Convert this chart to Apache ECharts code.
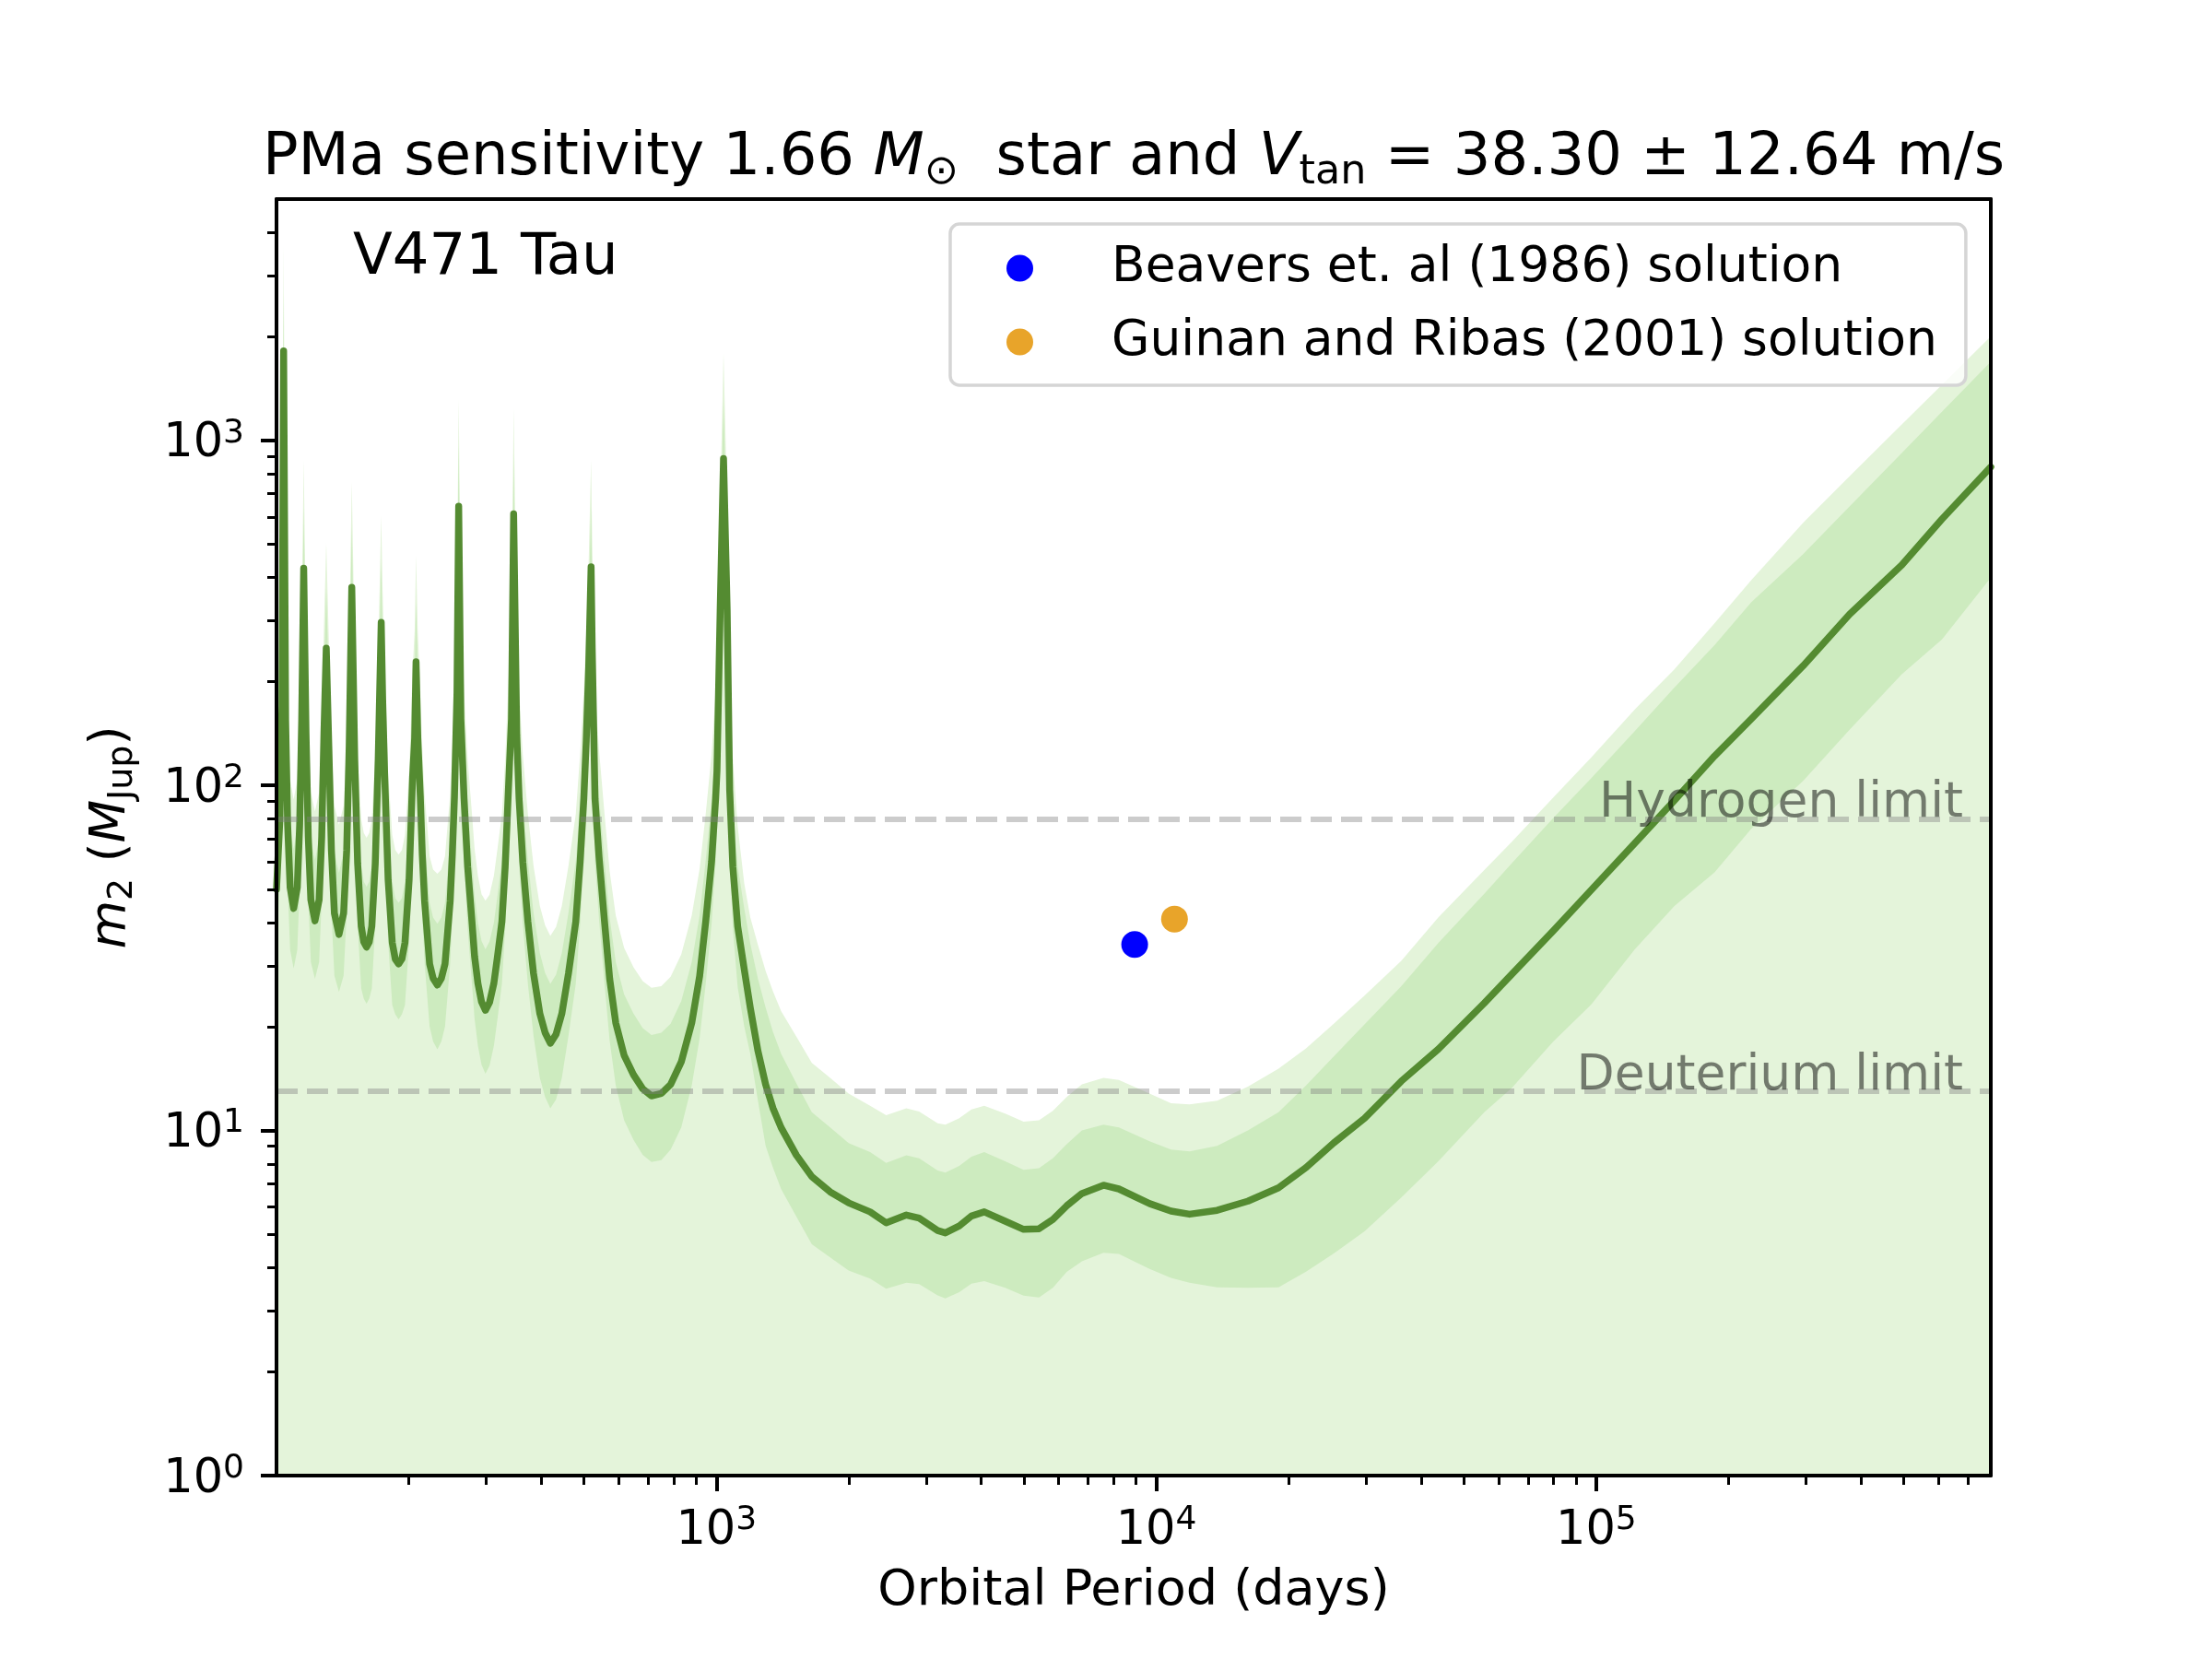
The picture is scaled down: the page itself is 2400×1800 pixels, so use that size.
<!DOCTYPE html>
<html>
<head>
<meta charset="utf-8">
<script src="https://cdn.jsdelivr.net/npm/echarts@6/dist/echarts.min.js"></script>
<style>
  html, body { margin: 0; padding: 0; background: #fff; }
  #chart { width: 2400px; height: 1800px; }
</style>
</head>
<body>
<div id="chart"></div>
<script>
// ── data (orbital period in days, mass in M_Jup) ──
const periods = [
  100, 101.8, 102.9, 103.8, 104.9, 106.0, 107.4, 109.4, 111.5, 112.9, 114.1,
  115.3, 116.7, 118.1, 119.7, 122.3, 125.0, 126.7, 128.2,
  129.75, 131.5, 133.3, 135.4, 138.7, 142.1, 144.4, 146.3,
  148.3, 150.6, 152.9, 155.8, 157.9, 160.2, 162.5, 164.7, 167.7, 170.3,
  173.0, 174.3, 176.2, 179.4, 183.3, 186.2, 189.5, 192.8, 195.9, 200.2, 203.9, 206.1,
  207.6, 209.5, 212.3, 214.5, 217.1, 222.9, 227, 232.1, 237, 241.6, 248.2, 251, 253.8, 257.2,
  259.5, 262.5, 266.9, 272, 278.2, 282, 287, 292.5, 298.5, 305, 312, 318, 325.4, 331, 336, 342.1,
  346, 351.7, 356, 363, 372.8, 384, 396.9, 408, 419.3, 432, 445.3, 461, 479, 490, 499.6, 506, 512.5,
  519, 522, 529.7, 541, 556.8, 572, 590.5, 617, 648, 680, 712, 749.5, 787, 832, 879, 916, 945.6, 975, 996, 1003, 1020,
  1038, 1058, 1072, 1090, 1118, 1157, 1194, 1243, 1294, 1345, 1403, 1520, 1648, 1814, 1998,
  2236, 2432, 2703, 2890, 3184, 3315, 3565, 3800, 4064, 4535, 4993, 5412, 5819, 6256, 6776, 7586, 8220, 9654,
  10800, 11900, 13750, 16150, 18960, 21900, 25320, 29740, 36060, 43750, 55670, 64340, 79900, 97500,
  122400, 150600, 185800, 225400, 295400, 376700, 495200, 611000, 789000
];
const medianMass = [
  50, 80, 170, 1815, 154, 77, 50.6, 44, 50.6, 77, 154,
  426, 142, 70.9, 46.6, 40.5, 46.6, 70.9, 142,
  250, 129.5, 64.8, 42.6, 37, 42.6, 64.8, 129.5,
  375, 119, 59.5, 39.1, 35.2, 34, 35.2, 39.1, 59.5, 119,
  297, 178, 106, 53.2, 35, 31.4, 30.4, 31.4, 35, 53.2, 106, 137,
  228, 137, 92.4, 63, 46.2, 30.4, 27.6, 26.4, 27.6, 30.4, 46.2, 63, 92.4, 185,
  644, 156, 91.5, 58, 40.3, 32, 26.7, 23.6, 22.3, 23.5, 26.7, 32, 40.3, 58, 91.5, 156,
  612, 140, 91.5, 60, 40.3, 28.5, 21.8, 19.2, 17.9, 19.0, 21.8, 28.5, 40.3, 60, 91.5, 135, 220,
  430, 250, 91.5, 62, 40.3, 27.5, 20.5, 16.5, 14.5, 13.2, 12.6, 12.8, 13.6, 15.8, 20.5, 28, 40.3, 60, 91.5, 110, 322,
  885, 322, 97, 58, 39, 29.3, 22.7, 17.0, 13.6, 11.6, 10.2, 8.48, 7.35, 6.64, 6.17,
  5.81, 5.40, 5.69, 5.57, 5.13, 5.05, 5.29, 5.65, 5.81, 5.46, 5.17, 5.19, 5.52, 6.05, 6.57, 6.94, 6.77, 6.14,
  5.84, 5.72, 5.87, 6.24, 6.82, 7.81, 9.21, 10.85, 13.9, 17.2, 23.4, 28.4, 37.9, 49.8,
  68, 90.4, 121.6, 156, 222, 313, 435, 591, 837
];
const innerHigh = [
  75, 120, 255, 2720, 231, 115, 75.5, 65.4, 75.5, 115, 231,
  640, 213, 106, 70, 60.8, 70, 106, 213,
  375, 194, 97, 64, 55.8, 64, 97, 194,
  562, 178, 89, 58.6, 52.6, 50.8, 52.6, 58.6, 89, 178,
  445, 267, 159, 80, 52.5, 47.1, 45.7, 47.1, 52.5, 80, 159, 205,
  342, 205, 139, 94.5, 69.3, 45.6, 41.4, 39.7, 41.4, 45.6, 69.3, 94.5, 139, 278,
  966, 234, 137, 87, 60.5, 48, 40, 35.4, 33.5, 35.3, 40, 48, 60.5, 87, 137, 234,
  918, 210, 137, 90, 60.5, 42.7, 32.7, 28.6, 26.6, 28.3, 32.7, 42.7, 60.5, 90, 137, 202, 330,
  645, 375, 137, 93, 60.5, 41.3, 30.8, 24.8, 21.8, 19.8, 18.9, 19.2, 20.4, 23.7, 30.8, 42, 60.5, 90, 137, 165, 483,
  1330, 483, 146, 87, 58.5, 44, 34.8, 27.5, 22.7, 19.3, 16.7, 13.7, 11.3, 10.2, 9.2,
  8.66, 8.06, 8.48, 8.31, 7.66, 7.55, 7.9, 8.4, 8.66, 8.14, 7.69, 7.78, 8.31, 9.12, 10.0, 10.4, 10.2, 9.3,
  8.8, 8.7, 9.03, 10.0, 11.3, 13.5, 16.4, 20.3, 26.2, 34.9, 48.5, 59.5, 80.5, 105,
  143.6, 192, 255, 340, 468, 643, 919, 1209, 1690
];
const innerLow = [
  33, 53, 112, 1200, 102, 51, 33.4, 29.5, 33.4, 51, 102,
  281, 94, 46.8, 30.8, 27.5, 30.8, 46.8, 94,
  165, 85.5, 42.8, 28.1, 25.2, 28.1, 42.8, 85.5,
  248, 78.5, 39.3, 25.8, 24.1, 23.3, 24.1, 25.8, 39.3, 78.5,
  196, 117, 70, 35.1, 23.1, 21.7, 21, 21.7, 23.1, 35.1, 70, 90,
  150, 90, 61, 41.5, 30.5, 20, 18.1, 17.2, 18.1, 20, 30.5, 41.5, 61, 122,
  425, 103, 60, 38.3, 26.6, 21.1, 17.6, 15.5, 14.6, 15.4, 17.6, 21.1, 26.6, 38.3, 60, 103,
  404, 92, 60, 39.6, 26.6, 18.8, 14.2, 12.5, 11.6, 12.3, 14.2, 18.8, 26.6, 39.6, 60, 89, 145,
  284, 165, 60, 41, 26.6, 18.2, 13.5, 10.7, 9.4, 8.5, 8.1, 8.2, 8.8, 10.2, 13.5, 18.5, 26.6, 39.6, 60, 72.6, 212,
  584, 212, 64, 38.5, 26, 20, 16.7, 12.2, 9.03, 7.8, 6.77, 5.63, 4.68, 4.29, 3.93,
  3.72, 3.48, 3.62, 3.59, 3.33, 3.26, 3.4, 3.6, 3.66, 3.5, 3.32, 3.28, 3.5, 3.89, 4.18, 4.42, 4.39, 3.97,
  3.74, 3.62, 3.51, 3.5, 3.51, 3.9, 4.4, 5.1, 6.4, 8.14, 11.3, 13.3, 18.1, 23.2,
  33.5, 44.7, 56, 75, 103, 145, 210, 265, 400
];
const outerHigh = [
  102, 164, 350, 3680, 316, 158, 104, 91, 104, 158, 316,
  878, 291, 145, 95.5, 84, 95.5, 145, 291,
  505, 265, 133, 87.3, 77, 87.3, 133, 265,
  759, 244, 122, 80, 72.8, 70.5, 72.8, 80, 122, 244,
  607, 365, 217, 109, 71.8, 65, 63, 65, 71.8, 109, 217, 281,
  464, 281, 189, 129, 94.7, 62.3, 57, 55.5, 57, 62.3, 94.7, 129, 189, 379,
  1320, 320, 188, 119, 82.6, 65.6, 54.7, 48.4, 46.3, 48.2, 54.7, 65.6, 82.6, 119, 188, 320,
  1241, 287, 188, 123, 82.6, 58.4, 44.7, 39.3, 36.6, 38.9, 44.7, 58.4, 82.6, 123, 188, 277, 451,
  878, 512, 188, 127, 82.6, 56.4, 42, 33.8, 29.7, 27.1, 25.9, 26.2, 27.9, 32.4, 42, 57.4, 82.6, 123, 188, 226, 660,
  1795, 660, 199, 119, 76, 52, 41.5, 34.5, 29, 25.3, 22.2, 18.7, 15.7, 14.2, 12.8,
  11.8, 11.07, 11.6, 11.35, 10.5, 10.4, 10.85, 11.5, 11.8, 11.2, 10.6, 10.7, 11.4, 12.5, 13.6, 14.2, 14.0, 12.8,
  12.0, 11.9, 12.2, 13.4, 15.1, 17.3, 20.4, 24.6, 31.0, 41.4, 56.8, 68.7, 92.3, 120.6,
  166, 217, 295, 394, 577, 787, 1112, 1449, 2000
];

const solutionNames = ['Beavers et. al (1986) solution', 'Guinan and Ribas (2001) solution'];
const solutionPeriods = [8930, 11000];
const solutionMasses = [34.6, 41.0];
const solutionColors = ['#0000ff', '#e8a42a'];

const limitNames = ['Hydrogen limit', 'Deuterium limit'];
const limitMasses = [80, 13];

const xMajorTicks = [1000, 10000, 100000];
const xMinorTicks = [200, 300, 400, 500, 600, 700, 800, 900,
  2000, 3000, 4000, 5000, 6000, 7000, 8000, 9000,
  20000, 30000, 40000, 50000, 60000, 70000, 80000, 90000,
  200000, 300000, 400000, 500000, 600000, 700000];
const yMajorTicks = [1, 10, 100, 1000];
const yMinorTicks = [2, 3, 4, 5, 6, 7, 8, 9, 20, 30, 40, 50, 60, 70, 80, 90,
  200, 300, 400, 500, 600, 700, 800, 900, 2000, 3000, 4000];

const X_MIN = 100, X_MAX = 789000, Y_MIN = 1, Y_MAX = 5000;

// ── style ──
const FONT = 'DejaVu Sans';
const INK = '#000';
const LIGHT = '#e4f4da';
const MEDIUM = '#cdebbf';
const LINE = '#548b31';

const pairs = ys => periods.map((p, i) => [p, ys[i]]);

const powRich = {
  b: { fontFamily: FONT, fontSize: 51, lineHeight: 51, padding: [9, 0, 0, 0], color: INK, verticalAlign: 'middle' },
  s: { fontFamily: FONT, fontSize: 36, lineHeight: 36, color: INK, verticalAlign: 'top' }
};
const powLabel = v => '{b|10}{s|' + Math.round(Math.log10(v)) + '}';

const bandArea = (name, ys, color, z) => ({
  name, type: 'line', data: pairs(ys), showSymbol: false, silent: true,
  lineStyle: { width: 0 }, areaStyle: { color, opacity: 1, origin: 'start' }, z
});

const logAxis = (extra) => Object.assign({
  type: 'log', logBase: 10, z: 10,
  splitLine: { show: false }, minorTick: { show: false }, minorSplitLine: { show: false }
}, extra);

const mathRich = (size, subSize, subLine, subPad, line) => ({
  r: { fontFamily: FONT, fontSize: size, lineHeight: line, fontWeight: 'normal', color: INK, verticalAlign: 'middle' },
  i: { fontFamily: FONT, fontSize: size, lineHeight: line, fontWeight: 'normal', fontStyle: 'italic', color: INK, verticalAlign: 'middle' },
  s: { fontFamily: FONT, fontSize: subSize, lineHeight: subLine, fontWeight: 'normal', padding: [subPad, 0, 0, 0], color: INK, verticalAlign: 'middle' }
});

const chart = echarts.init(document.getElementById('chart'), null, { width: 2400, height: 1800 });

chart.setOption({
  animation: false,
  backgroundColor: '#fff',
  grid: { left: 300, right: 240, top: 216, bottom: 199, containLabel: false },
  title: [
    {
      text: '{r|PMa sensitivity 1.66 }{i|M}{s|\u2299}{r|  star and }{i|V}{s|tan}{r| = 38.30 \u00b1 12.64 m/s}',
      left: 1230, top: 135, textAlign: 'center', padding: 0,
      textStyle: { fontWeight: 'normal', rich: mathRich(64, 44.5, 46, 29, 75) }
    },
    {
      text: 'V471 Tau', left: 383, top: 250, padding: 0,
      textStyle: { fontFamily: FONT, fontSize: 62.5, lineHeight: 62, fontWeight: 'normal', color: INK }
    }
  ],
  legend: {
    data: solutionNames.map(name => ({ name, icon: 'circle' })),
    orient: 'vertical', left: 1031, top: 243,
    itemWidth: 29, itemHeight: 29, itemGap: 26,
    padding: [21, 31, 20, 61],
    borderColor: '#d5d5d5', borderWidth: 3.5, borderRadius: 10,
    backgroundColor: 'rgba(255,255,255,0.8)',
    selectedMode: false,
    textStyle: { fontFamily: FONT, fontSize: 53.5, lineHeight: 54, color: INK, padding: [0, 0, 0, 80] }
  },
  xAxis: [
    logAxis({
      min: X_MIN, max: X_MAX, position: 'bottom',
      axisLine: { show: true, onZero: false, lineStyle: { color: INK, width: 4 } },
      axisTick: { show: true, customValues: xMajorTicks, length: 17, lineStyle: { color: INK, width: 4 } },
      axisLabel: { show: true, customValues: xMajorTicks, formatter: powLabel, rich: powRich, margin: 31 },
      name: 'Orbital Period (days)', nameLocation: 'middle', nameGap: 99,
      nameTextStyle: { fontFamily: FONT, fontSize: 54, lineHeight: 54, color: INK }
    }),
    logAxis({
      min: X_MIN, max: X_MAX, position: 'bottom',
      axisLine: { show: false },
      axisTick: { show: true, customValues: xMinorTicks, length: 10, lineStyle: { color: INK, width: 3 } },
      axisLabel: { show: false }
    }),
    logAxis({
      min: X_MIN, max: X_MAX, position: 'top',
      axisLine: { show: true, onZero: false, lineStyle: { color: INK, width: 4 } },
      axisTick: { show: false }, axisLabel: { show: false }
    })
  ],
  yAxis: [
    logAxis({
      min: Y_MIN, max: Y_MAX, position: 'left',
      axisLine: { show: true, onZero: false, lineStyle: { color: INK, width: 4 } },
      axisTick: { show: true, customValues: yMajorTicks, length: 17, lineStyle: { color: INK, width: 4 } },
      axisLabel: { show: true, customValues: yMajorTicks, formatter: powLabel, rich: powRich, margin: 35 },
      name: '{i|m}{s|2}{r| (}{i|M}{s|Jup}{r|)}', nameLocation: 'middle', nameRotate: 90, nameGap: 149,
      nameTextStyle: { rich: mathRich(54, 38, 40, 25, 60) }
    }),
    logAxis({
      min: Y_MIN, max: Y_MAX, position: 'left',
      axisLine: { show: false },
      axisTick: { show: true, customValues: yMinorTicks, length: 10, lineStyle: { color: INK, width: 3 } },
      axisLabel: { show: false }
    }),
    logAxis({
      min: Y_MIN, max: Y_MAX, position: 'right',
      axisLine: { show: true, onZero: false, lineStyle: { color: INK, width: 4 } },
      axisTick: { show: false }, axisLabel: { show: false }
    })
  ],
  series: [
    bandArea('outer band', outerHigh, LIGHT, 1),
    bandArea('inner band', innerHigh, MEDIUM, 2),
    bandArea('inner band floor', innerLow, LIGHT, 3),
    {
      name: 'median', type: 'line', data: pairs(medianMass), showSymbol: false, silent: true, z: 4,
      lineStyle: { color: LINE, width: 7.5, join: 'round', cap: 'round' }
    },
    {
      name: 'limits', type: 'line', data: [], silent: true, z: 5,
      markLine: {
        silent: true, symbol: ['none', 'none'], animation: false,
        lineStyle: { color: 'rgba(128,128,128,0.4)', width: 6, type: [23, 10] },
        label: {
          show: true, position: 'insideEndTop', formatter: '{b}', distance: [30, -11],
          fontFamily: FONT, fontSize: 53.5, lineHeight: 54, color: 'rgba(0,0,0,0.5)'
        },
        data: limitNames.map((name, i) => ({ name, yAxis: limitMasses[i] }))
      }
    }
  ].concat(solutionNames.map((name, i) => ({
    name, type: 'scatter', z: 6, symbol: 'circle', symbolSize: 29, silent: true,
    data: [[solutionPeriods[i], solutionMasses[i]]],
    itemStyle: { color: solutionColors[i], opacity: 1 }
  })))
});
</script>
</body>
</html>
